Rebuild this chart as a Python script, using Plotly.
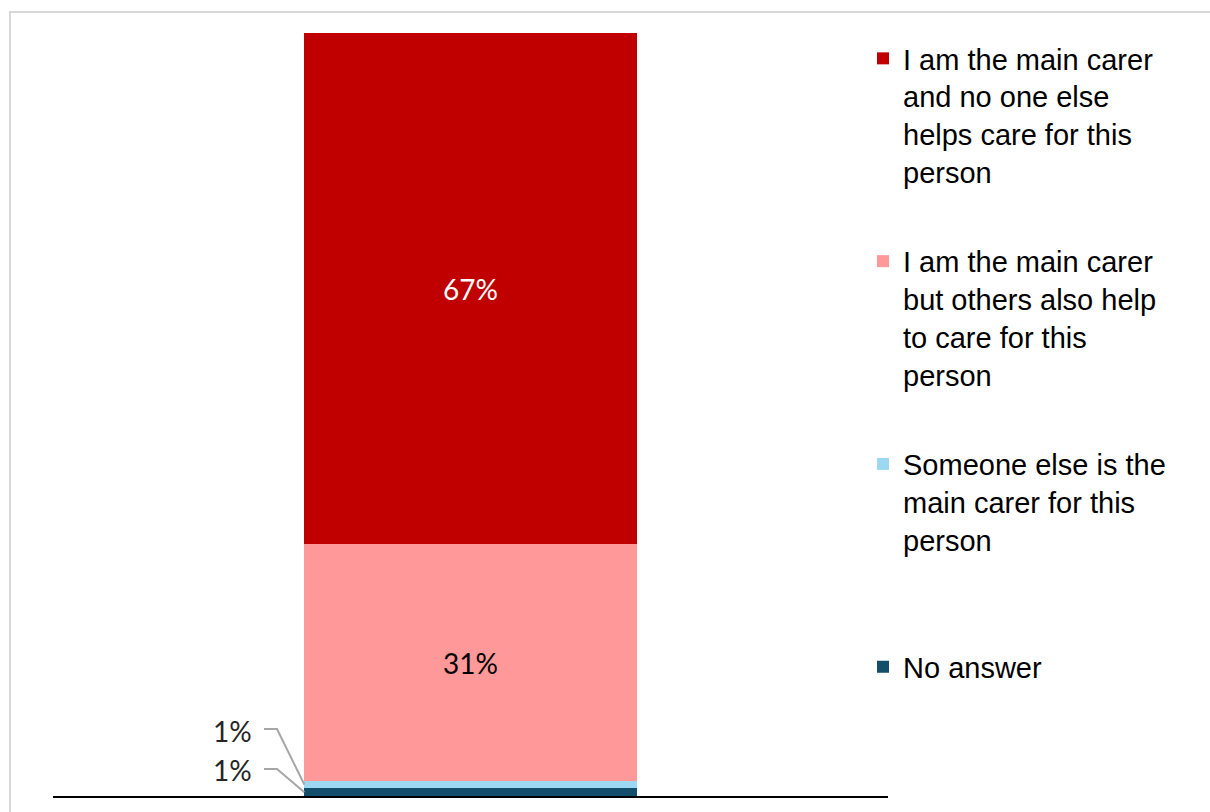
import plotly.graph_objects as go

# Carer responses, stacked from the bottom of the bar upwards
categories = [
    "No answer",
    "Someone else is the<br>main carer for this<br>person<br> ",
    "I am the main carer<br>but others also help<br>to care for this<br>person",
    "I am the main carer<br>and no one else<br>helps care for this<br>person",
]
values = [1, 1, 31, 67]
colors = ["#134F6B", "#9DD8F2", "#FF9999", "#C00000"]
label_colors = [None, None, "#000000", "#FFFFFF"]
legend_ranks = [4, 3, 2, 1]

W, H = 1210, 812
ML, MR, MT, MB = 53, 322, 33, 16
plot_w = W - ML - MR
plot_h = H - MT - MB

fig = go.Figure()
for name, v, c, lc, rk in zip(categories, values, colors, label_colors, legend_ranks):
    show_label = lc is not None
    fig.add_trace(go.Bar(
        x=[0], y=[v], name=name, legendgroup=name, legendrank=rk,
        marker=dict(color=c, line=dict(width=0)),
        width=0.398,
        text=[f"{v}%"] if show_label else None,
        texttemplate="%{text}" if show_label else None,
        textposition="inside" if show_label else "none",
        insidetextanchor="middle",
        textangle=0,
        textfont=dict(family="Lato", size=28, color=lc if lc else "#000"),
        hoverinfo="skip",
    ))

# Small segments get labels to the left with elbow leader lines
bar_left = -0.199
px = lambda p: (p - (ML + plot_w / 2)) / plot_w       # pixel offset -> x data
label_offsets = [(770, 769), (731, 729)]              # text y, elbow y (pixels)
cum = 0
for i, v in enumerate(values[:2]):
    mid = cum + v / 2
    cum += v
    ty, ey = label_offsets[i]
    ty_d = (MT + plot_h - ty) / plot_h * 100
    ey_d = (MT + plot_h - ey) / plot_h * 100
    fig.add_annotation(
        x=px(254), y=ty_d, xref="x", yref="y", text=f"{v}%",
        showarrow=False, xanchor="right", yanchor="middle",
        font=dict(family="Lato", size=28, color="#262626"),
    )
    fig.add_shape(
        type="path", xref="x", yref="y",
        path=f"M {px(264)},{ey_d} L {px(277)},{ey_d} L {bar_left},{mid}",
        line=dict(color="#A6A6A6", width=2),
    )

# Light grey chart-area frame
fig.add_shape(
    type="rect", xref="paper", yref="paper",
    x0=(10 - ML) / plot_w, x1=2, y0=-1, y1=(MT + plot_h - 12) / plot_h,
    line=dict(color="#D9D9D9", width=2), layer="below",
)

fig.update_layout(
    width=W, height=H,
    margin=dict(l=ML, r=MR, t=MT, b=MB, pad=0),
    barmode="stack",
    bargap=0,
    paper_bgcolor="white", plot_bgcolor="white",
    showlegend=True,
    legend=dict(
        x=(863 - ML) / plot_w, y=(MT + plot_h - 33) / plot_h,
        xanchor="left", yanchor="top",
        traceorder="grouped",
        tracegroupgap=49,
        valign="top",
        font=dict(family="Liberation Sans", size=29, color="#000000"),
        bgcolor="rgba(0,0,0,0)",
    ),
    xaxis=dict(range=[-0.5, 0.5], showticklabels=False, ticks="",
               showgrid=False, zeroline=False, showline=True,
               linecolor="#000000", linewidth=2, fixedrange=True),
    yaxis=dict(range=[0, 100], visible=False, fixedrange=True),
)

fig.write_html("out.html")
